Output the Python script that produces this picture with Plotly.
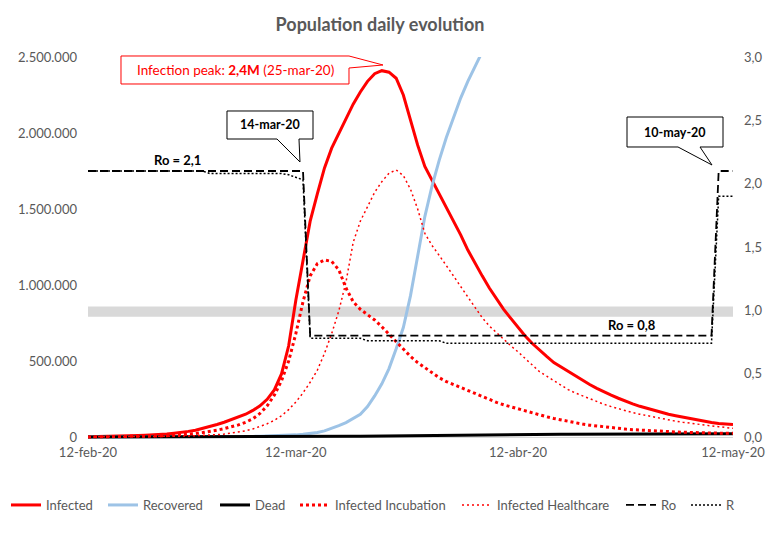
import pandas as pd
import plotly.graph_objects as go

start_date = "2020-02-12"
dates = pd.date_range(start_date, periods=91, freq="D")

infected = [
    1500, 2000, 2700, 3500, 4500, 6000, 7500, 9500, 11500, 13500,
    16000, 20000, 25000, 30000, 37000, 45000, 56000, 68000, 82000, 97000,
    113000, 130000, 150000, 175000, 205000, 248000, 310000, 415000, 600000, 900000,
    1160000, 1420000, 1600000, 1770000, 1900000, 2000000, 2100000, 2190000, 2270000, 2340000,
    2390000, 2410000, 2400000, 2360000, 2250000, 2080000, 1920000, 1780000, 1690000, 1600000,
    1520000, 1430000, 1330000, 1230000, 1140000, 1060000, 980000, 910000, 840000, 780000,
    720000, 665000, 615000, 570000, 530000, 490000, 460000, 430000, 400000, 370000,
    345000, 320000, 295000, 275000, 255000, 235000, 218000, 202000, 188000, 175000,
    162000, 150000, 140000, 130000, 120000, 110000, 102000, 95000, 89000, 85000,
    83000,
]

recovered = [
    0, 0, 0, 0, 0, 0, 0, 0, 0, 0,
    100, 150, 200, 300, 400, 500, 700, 900, 1200, 1500,
    2000, 2500, 3000, 4000, 5000, 6000, 7500, 9000, 11000, 14000,
    18000, 23000, 30000, 40000, 55000, 75000, 95000, 120000, 150000, 200000,
    270000, 350000, 450000, 580000, 720000, 930000, 1200000, 1450000, 1650000, 1820000,
    1970000, 2100000, 2230000, 2340000, 2440000, 2540000, 2630000,
]

dead = [
    0, 0, 0, 0, 0, 0, 0, 0, 0, 0,
    0, 0, 0, 0, 0, 0, 0, 0, 0, 0,
    100, 150, 200, 300, 400, 500, 600, 800, 1000, 1200,
    1500, 1800, 2100, 2500, 3000, 3500, 4000, 4600, 5200, 5800,
    6500, 7200, 7900, 8600, 9300, 10000, 10600, 11200, 11800, 12300,
    12800, 13300, 13700, 14100, 14500, 14900, 15200, 15500, 15800, 16100,
    16400, 16700, 17000, 17200, 17400, 17600, 17800, 18000, 18200, 18400,
    18600, 18800, 19000, 19100, 19200, 19300, 19400, 19500, 19600, 19700,
    19800, 19900, 20000, 20100, 20200, 20300, 20400, 20500, 20600, 20700,
    20800,
]

infected_incubation = [
    500, 700, 900, 1200, 1600, 2000, 2600, 3300, 4200, 5300,
    6700, 8500, 11000, 14000, 18000, 23000, 29000, 36000, 45000, 55000,
    67000, 80000, 97000, 120000, 155000, 205000, 275000, 370000, 500000, 680000,
    890000, 1060000, 1140000, 1165000, 1155000, 1100000, 980000, 890000, 840000, 805000,
    770000, 725000, 675000, 625000, 575000, 530000, 490000, 455000, 420000, 390000,
    365000, 345000, 325000, 305000, 285000, 265000, 245000, 228000, 212000, 198000,
    184000, 170000, 156000, 144000, 133000, 122000, 112000, 102000, 93000, 85000,
    78000, 72000, 66000, 61000, 56000, 52000, 48000, 45000, 42000, 39000,
    37000, 35000, 33000, 31000, 30000, 28000, 27000, 26000, 25000, 24000,
    24000,
]

infected_healthcare = [
    300, 400, 500, 650, 800, 1000, 1300, 1600, 2000, 2500,
    3000, 3700, 4500, 5500, 6700, 8200, 10000, 12500, 15500, 19500,
    25000, 32000, 41000, 53000, 68000, 87000, 110000, 140000, 180000, 230000,
    290000, 360000, 440000, 550000, 680000, 830000, 1020000, 1280000, 1420000, 1520000,
    1610000, 1680000, 1735000, 1757000, 1720000, 1630000, 1500000, 1340000, 1260000, 1195000,
    1130000, 1060000, 990000, 920000, 850000, 785000, 730000, 685000, 640000, 600000,
    560000, 515000, 470000, 430000, 400000, 370000, 340000, 312000, 290000, 270000,
    250000, 230000, 215000, 200000, 185000, 172000, 160000, 150000, 140000, 130000,
    120000, 112000, 104000, 97000, 90000, 84000, 78000, 73000, 68000, 62000,
    57000,
]

ro = [
    2.1, 2.1, 2.1, 2.1, 2.1, 2.1, 2.1, 2.1, 2.1, 2.1,
    2.1, 2.1, 2.1, 2.1, 2.1, 2.1, 2.1, 2.1, 2.1, 2.1,
    2.1, 2.1, 2.1, 2.1, 2.1, 2.1, 2.1, 2.1, 2.1, 2.1,
    2.1, 0.8, 0.8, 0.8, 0.8, 0.8, 0.8, 0.8, 0.8, 0.8,
    0.8, 0.8, 0.8, 0.8, 0.8, 0.8, 0.8, 0.8, 0.8, 0.8,
    0.8, 0.8, 0.8, 0.8, 0.8, 0.8, 0.8, 0.8, 0.8, 0.8,
    0.8, 0.8, 0.8, 0.8, 0.8, 0.8, 0.8, 0.8, 0.8, 0.8,
    0.8, 0.8, 0.8, 0.8, 0.8, 0.8, 0.8, 0.8, 0.8, 0.8,
    0.8, 0.8, 0.8, 0.8, 0.8, 0.8, 0.8, 0.8, 2.1, 2.1,
    2.1,
]

r_eff = [
    2.1, 2.1, 2.1, 2.1, 2.1, 2.1, 2.1, 2.1, 2.1, 2.1,
    2.1, 2.1, 2.1, 2.1, 2.1, 2.1, 2.1, 2.08, 2.08, 2.08,
    2.08, 2.08, 2.08, 2.08, 2.08, 2.08, 2.08, 2.08, 2.07, 2.05,
    2.03, 0.78, 0.78, 0.78, 0.78, 0.78, 0.78, 0.78, 0.78, 0.76,
    0.76, 0.76, 0.76, 0.76, 0.76, 0.76, 0.76, 0.76, 0.76, 0.76,
    0.74, 0.74, 0.74, 0.74, 0.74, 0.74, 0.74, 0.74, 0.74, 0.74,
    0.74, 0.74, 0.74, 0.74, 0.74, 0.74, 0.74, 0.74, 0.74, 0.74,
    0.74, 0.74, 0.74, 0.74, 0.74, 0.74, 0.74, 0.74, 0.74, 0.74,
    0.74, 0.74, 0.74, 0.74, 0.74, 0.74, 0.74, 0.74, 1.9, 1.9,
    1.9,
]

tick_dates = ["2020-02-12", "2020-03-12", "2020-04-12", "2020-05-12"]
tick_labels = ["12-feb-20", "12-mar-20", "12-abr-20", "12-may-20"]
left_ticks = [0, 500000, 1000000, 1500000, 2000000, 2500000]
right_ticks = [0, 0.5, 1.0, 1.5, 2.0, 2.5, 3.0]

FONT = "Lato, 'Open Sans', sans-serif"
GREY = "#595959"
RED = "#FF0000"
BLUE = "#9DC3E6"

W, H = 783, 534
ML, MR, MT, MB = 88, 50, 57, 95
PW = W - ML - MR
PH = H - MT - MB


def px(x):
    return (x - ML) / PW


def py(y):
    return (H - MB - y) / PH


def path(points):
    return "M " + " L ".join(f"{px(x):.5f},{py(y):.5f}" for x, y in points) + " Z"


# (name, values, line style, axis, legend id, legend x pixel)
series = [
    ("Infected", infected, dict(color=RED, width=3), "y", "legend", 6),
    ("Recovered", recovered, dict(color=BLUE, width=3), "y", "legend2", 103),
    ("Dead", dead, dict(color="black", width=3), "y", "legend3", 215),
    ("Infected Incubation", infected_incubation, dict(color=RED, width=3, dash="3px,3px"), "y", "legend4", 295),
    ("Infected Healthcare", infected_healthcare, dict(color=RED, width=1.5, dash="2px,3px"), "y", "legend5", 457),
    ("Ro", ro, dict(color="black", width=1.8, dash="8px,4px"), "y2", "legend6", 621),
    ("R", r_eff, dict(color="black", width=1.5, dash="2px,2px"), "y2", "legend7", 686),
]

fig = go.Figure()
legend_layouts = {}
for name, vals, line, yax, leg, lx in series:
    fig.add_trace(go.Scatter(x=dates[:len(vals)], y=vals, name=name, mode="lines",
                             line=line, yaxis=yax, legend=leg))
    legend_layouts[leg] = dict(orientation="h", xref="container", x=lx / W, xanchor="left",
                               yref="container", y=1 - 505 / H, yanchor="middle",
                               font=dict(family=FONT, size=13, color=GREY),
                               bgcolor="rgba(0,0,0,0)")

ymax = 2500000
ymin = -(MT + PH - 437) / 380 * ymax  # keep 0 at pixel 437

shapes = [
    dict(type="rect", xref="paper", x0=0, x1=1, yref="y2", y0=0.95, y1=1.03,
         fillcolor="#D9D9D9", line=dict(width=0), layer="below"),
    dict(type="path", xref="paper", yref="paper",
         path=path([(121, 56), (349, 56), (383, 65), (349, 68), (349, 84), (121, 84)]),
         fillcolor="white", line=dict(color=RED, width=1)),
    dict(type="path", xref="paper", yref="paper",
         path=path([(227, 111), (313, 111), (313, 139), (299, 139), (300, 162), (277, 139), (227, 139)]),
         fillcolor="white", line=dict(color="black", width=1)),
    dict(type="path", xref="paper", yref="paper",
         path=path([(627, 117), (723, 117), (723, 147), (700, 147), (712, 165), (678, 147), (627, 147)]),
         fillcolor="white", line=dict(color="black", width=1)),
]


def label(x, y, text, color="black", size=13):
    return dict(x=px(x), y=py(y), xref="paper", yref="paper", showarrow=False,
                xanchor="center", yanchor="middle", text=text,
                font=dict(family=FONT, size=size, color=color))


annotations = [
    label(235, 70, "Infection peak: <b>2,4M</b> (25-mar-20)", RED, 13.5),
    label(270, 125, "<b>14-mar-20</b>", size=12.5),
    label(675, 132, "<b>10-may-20</b>", size=12.5),
    label(177, 160, "<b>Ro = 2,1</b>"),
    label(632, 325, "<b>Ro = 0,8</b>"),
]

fig.update_layout(
    width=W, height=H,
    margin=dict(l=ML, r=MR, t=MT, b=MB, autoexpand=False),
    paper_bgcolor="white", plot_bgcolor="white",
    separators=",.",
    font=dict(family=FONT, size=13, color=GREY),
    title=dict(text="<b>Population daily evolution</b>", x=380 / W, xanchor="center",
               xref="container", y=1 - 25 / H, yref="container", yanchor="middle",
               font=dict(family=FONT, size=18, color=GREY)),
    xaxis=dict(type="date", range=["2020-02-12", "2020-05-12"], tickvals=tick_dates,
               ticktext=tick_labels, showgrid=False, showline=False, zeroline=False,
               ticks="", ticklabelstandoff=4, automargin=False,
               tickfont=dict(family=FONT, size=13, color=GREY)),
    yaxis=dict(range=[ymin, ymax], tickvals=left_ticks, tickformat=",.0f",
               showgrid=False, showline=False, zeroline=True, zerolinecolor="#D9D9D9",
               zerolinewidth=1, ticks="", ticklabelstandoff=10, automargin=False,
               tickfont=dict(family=FONT, size=13, color=GREY)),
    yaxis2=dict(range=[ymin / ymax * 3, 3], tickvals=right_ticks, tickformat=".1f",
                overlaying="y", side="right", showgrid=False, showline=False, zeroline=False,
                ticks="", ticklabelstandoff=10, automargin=False,
                tickfont=dict(family=FONT, size=13, color=GREY)),
    shapes=shapes,
    annotations=annotations,
    showlegend=True,
    **legend_layouts,
)

fig.write_html("out.html", config={"displayModeBar": False},
               post_script="document.body.style.margin='0px';")
